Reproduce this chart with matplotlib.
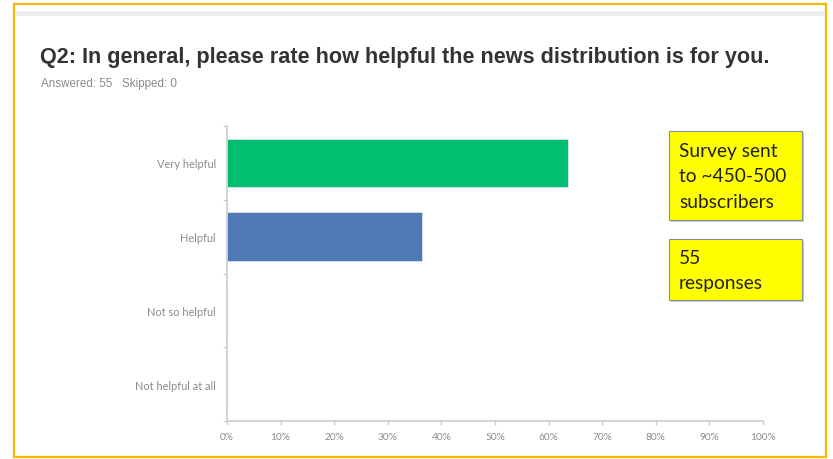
import matplotlib
matplotlib.use("Agg")
import matplotlib.pyplot as plt
from matplotlib.patches import Rectangle
import matplotlib.ticker as mticker

categories = ["Very helpful", "Helpful", "Not so helpful", "Not helpful at all"]
values = [63.64, 36.36, 0.0, 0.0]
bar_colors = ["#00BF6F", "#4E79B5", "#4E79B5", "#4E79B5"]
xticks = [0, 10, 20, 30, 40, 50, 60, 70, 80, 90, 100]
title = "Q2: In general, please rate how helpful the news distribution is for you."
subtitle = "Answered: 55   Skipped: 0"
note1_lines = ["Survey sent", "to ~450-500", "subscribers"]
note2_lines = ["55", "responses"]

W, H = 833, 460
fig = plt.figure(figsize=(W / 100, H / 100), dpi=100)
fig.patch.set_facecolor("white")

def fx(px):
    return px / W

def fy(py):
    return 1 - py / H

# orange frame and grey top line
fig.add_artist(Rectangle((fx(14), fy(458)), fx(826) - fx(14), fy(5) - fy(458),
                         transform=fig.transFigure, fill=False, edgecolor="#F5B800", lw=1.6))
fig.add_artist(Rectangle((fx(15), fy(17)), fx(825) - fx(15), fy(12) - fy(17),
                         transform=fig.transFigure, facecolor="#ECECEC", edgecolor="none"))

fig.text(fx(40), fy(58), title, fontsize=15.6, fontweight="bold", family="Liberation Sans",
         color="#333333", va="center", ha="left")
fig.text(fx(41), fy(84), subtitle, fontsize=8.4, family="Liberation Sans",
         color="#8A8A8A", va="center", ha="left")

ax = fig.add_axes([fx(227), fy(422), fx(763) - fx(227), fy(127) - fy(422)])
ypos = list(range(len(categories)))
ax.barh(ypos, values, height=0.66, color=bar_colors, edgecolor="#D8E4F0", linewidth=0.6)
ax.set_xlim(0, 100)
ax.set_ylim(len(categories) - 0.5, -0.5)
ax.set_yticks(ypos)
ax.set_yticklabels(categories)
ax.yaxis.set_minor_locator(mticker.FixedLocator([i - 0.5 for i in range(len(categories) + 1)]))
ax.set_xticks(xticks)
ax.set_xticklabels([f"{v}%" for v in xticks])
for s in ["top", "right"]:
    ax.spines[s].set_visible(False)
for s in ["left", "bottom"]:
    ax.spines[s].set_color("#CCCCCC")
    ax.spines[s].set_linewidth(1.2)
ax.tick_params(axis="y", which="major", length=0, pad=8, labelsize=7.9, labelcolor="#8C8C8C")
ax.tick_params(axis="y", which="minor", length=3, color="#CCCCCC", width=1)
ax.tick_params(axis="x", length=3, color="#CCCCCC", width=1, pad=5, labelsize=7.3, labelcolor="#8C8C8C")
for lab in ax.get_xticklabels() + ax.get_yticklabels():
    lab.set_family("Lato")

def note(x0, y0, x1, y1, lines, line_y):
    sh = Rectangle((fx(x0 + 2), fy(y1 + 2)), fx(x1) - fx(x0), fy(y0) - fy(y1),
                   transform=fig.transFigure, facecolor="#A8A8A8", edgecolor="none", alpha=0.6)
    fig.add_artist(sh)
    box = Rectangle((fx(x0), fy(y1)), fx(x1) - fx(x0), fy(y0) - fy(y1),
                    transform=fig.transFigure, facecolor="#FFFF00", edgecolor="#8A8FA0", lw=0.8)
    fig.add_artist(box)
    for txt, ly in zip(lines, line_y):
        fig.text(fx(x0 + 10), fy(ly), txt, fontsize=13.8, family="Lato", color="#222222",
                 va="center", ha="left")

note(669, 132, 802, 221, note1_lines, [152, 177, 202])
note(669, 240, 802, 301, note2_lines, [258, 284])

fig.savefig("out.png", dpi=100, facecolor="white")
